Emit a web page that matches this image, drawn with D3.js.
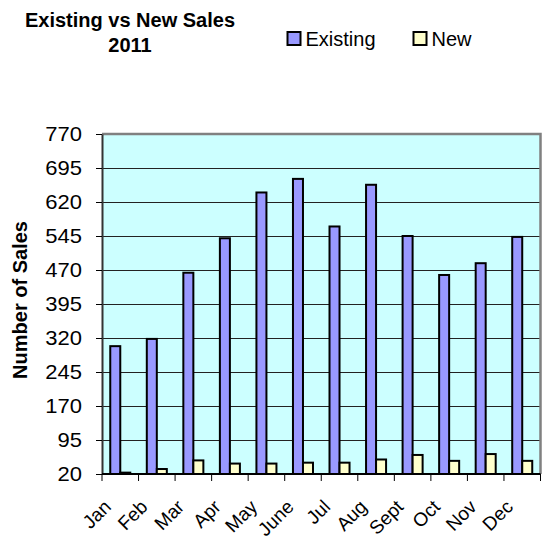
<!DOCTYPE html>
<html>
<head>
<meta charset="utf-8">
<script src="https://cdn.jsdelivr.net/npm/d3@7/dist/d3.min.js"></script>
<style>
  html, body { margin: 0; padding: 0; background: #fff; }
  svg { display: block; font-family: "Liberation Sans", Arial, sans-serif; }
</style>
</head>
<body>
<svg id="chart" width="542" height="540"></svg>
<script>
const months = ["Jan","Feb","Mar","Apr","May","June","Jul","Aug","Sept","Oct","Nov","Dec"];
const seriesNames = ["Existing","New"];
const existingSales = [302, 318, 464, 540, 641, 671, 566, 658, 545, 459, 485, 543];
const newSales = [23, 31, 50, 43, 43, 45, 45, 52, 62, 49, 64, 49];
const yTicks = [20, 95, 170, 245, 320, 395, 470, 545, 620, 695, 770];
const colors = {Existing: "#9999FF", New: "#FFFFCC"};

(function () {
const svg = d3.select("#chart");
const pLeft = 102, pRight = 540.5, pTop = 134, pBottom = 474;

const x0 = d3.scaleBand().domain(months).range([pLeft, pRight]).padding(0);
const x1 = d3.scaleBand().domain(seriesNames).range([0, x0.bandwidth()]).paddingInner(0).paddingOuter(0.825);
const y = d3.scaleLinear().domain([20, 770]).range([pBottom, pTop]);

// plot background
svg.append("rect").attr("x", pLeft).attr("y", pTop).attr("width", pRight - pLeft).attr("height", pBottom - pTop)
  .attr("fill", "#CCFFFF");

// gridlines
svg.append("g").selectAll("line").data(yTicks.slice(1, -1)).join("line")
  .attr("x1", pLeft).attr("x2", pRight).attr("y1", d => y(d)).attr("y2", d => y(d))
  .attr("stroke", "#222").attr("stroke-width", 1).attr("shape-rendering", "crispEdges");

// border top/right
svg.append("path")
  .attr("d", `M${pLeft},${pTop}H${pRight}V${pBottom}`)
  .attr("fill", "none").attr("stroke", "#808080").attr("stroke-width", 2.5);

// bars
const data = months.map((m, i) => ({month: m, Existing: existingSales[i], New: newSales[i]}));
const groups = svg.append("g").selectAll("g").data(data).join("g")
  .attr("transform", d => `translate(${x0(d.month)},0)`);
groups.selectAll("rect").data(d => seriesNames.map(s => ({key: s, value: d[s]}))).join("rect")
  .attr("x", d => x1(d.key))
  .attr("width", x1.bandwidth())
  .attr("y", d => y(d.value))
  .attr("height", d => y(20) - y(d.value))
  .attr("fill", d => colors[d.key])
  .attr("stroke", "#000").attr("stroke-width", 2);

// y axis
const yAxis = d3.axisLeft(y).tickValues(yTicks).tickSize(6).tickPadding(14).tickSizeOuter(0);
const gy = svg.append("g").attr("transform", `translate(${pLeft},0)`).call(yAxis);
gy.select(".domain").attr("stroke", "#333").attr("stroke-width", 2);
gy.selectAll(".tick line").attr("stroke", "#000");
gy.selectAll(".tick text").attr("font-size", 20).attr("fill", "#000")
  .attr("font-family", "Liberation Sans, Arial, sans-serif")
  .attr("x", -20 / 1.1)
  .attr("transform", "scale(1.1,1)");

// x axis
const gx = svg.append("g").attr("transform", `translate(0,${pBottom})`);
gx.append("line").attr("x1", pLeft).attr("x2", pRight).attr("y1", 0).attr("y2", 0)
  .attr("stroke", "#000").attr("stroke-width", 2);
const edges = months.map(m => x0(m)).concat([pRight]);
gx.selectAll("line.tk").data(edges).join("line").attr("class", "tk")
  .attr("x1", d => d).attr("x2", d => d).attr("y1", 0).attr("y2", 7)
  .attr("stroke", "#000").attr("stroke-width", 1);
gx.selectAll("text").data(months).join("text")
  .attr("text-anchor", "end")
  .attr("font-size", 19)
  .attr("transform", d => `translate(${x0(d) + x0.bandwidth() / 2 - 8},${34}) rotate(-45)`)
  .text(d => d);

// y title
svg.append("text")
  .attr("transform", `translate(27,300) rotate(-90)`)
  .attr("text-anchor", "middle").attr("font-weight", "bold").attr("font-size", 20)
  .text("Number of Sales");

// chart title
const title = svg.append("text").attr("text-anchor", "middle").attr("font-weight", "bold").attr("font-size", 20);
title.append("tspan").attr("x", 130).attr("y", 27).text("Existing vs New Sales");
title.append("tspan").attr("x", 130).attr("y", 52).text("2011");

// legend
const legendX = [287.5, 413.5];
const lg = svg.append("g").selectAll("g").data(seriesNames).join("g")
  .attr("transform", (d, i) => `translate(${legendX[i]},32)`);
lg.append("rect").attr("width", 13).attr("height", 13)
  .attr("fill", d => colors[d]).attr("stroke", "#000").attr("stroke-width", 2);
lg.append("text").attr("x", 18).attr("y", 13.5).attr("font-size", 20).text(d => d);
})();
</script>
</body>
</html>
